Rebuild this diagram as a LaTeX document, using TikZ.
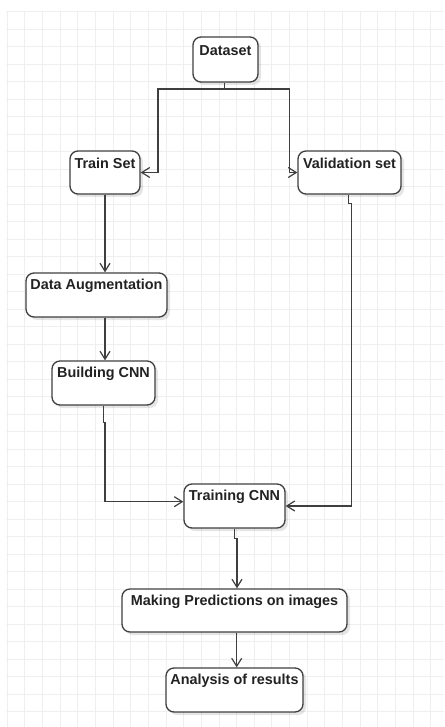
\documentclass[tikz,border=0pt]{standalone}
\usepackage{fontspec}
\setmainfont{Liberation Sans}
\usetikzlibrary{arrows.meta,calc,shadows}
\definecolor{gridline}{HTML}{EFEFEF}
\definecolor{edge}{HTML}{3F3F3F}
\definecolor{ink}{HTML}{222222}
\tikzset{
  stepbox/.style={draw=edge, line width=1.3pt, rounded corners=8pt, fill=white,
    drop shadow={shadow xshift=3pt, shadow yshift=-3pt, opacity=0.10, fill=black},
    inner sep=0pt},
  lbl/.style={text=ink, font=\fontsize{14.4}{17}\selectfont\bfseries, inner sep=0pt},
  arr/.style={draw=edge, line width=1.3pt,
    -{Straight Barb[length=8pt,width=10pt,line width=1.2pt]}},
}
\begin{document}
\begin{tikzpicture}[x=1pt,y=-1pt]
\useasboundingbox (0,0) rectangle (444,727);
\fill[white] (0,0) rectangle (444,727);
% background grid
\foreach \i in {0,...,24} {
  \draw[gridline, line width=0.9pt] ({7.3+17.64*\i},11) -- ({7.3+17.64*\i},727);
}
\foreach \j in {0,...,40} {
  \draw[gridline, line width=0.9pt] (6,{11.7+17.5*\j}) -- (444,{11.7+17.5*\j});
}
% boxes
\node[stepbox, minimum width=65pt, minimum height=45pt] (ds) at (225.5,59.5) {};
\node[stepbox, minimum width=70pt, minimum height=43pt] (train) at (105,172.5) {};
\node[stepbox, minimum width=103pt, minimum height=43pt] (val) at (349.5,172.5) {};
\node[stepbox, minimum width=141pt, minimum height=44pt] (aug) at (96.5,295) {};
\node[stepbox, minimum width=103pt, minimum height=44pt] (build) at (103.5,383) {};
\node[stepbox, minimum width=101pt, minimum height=44pt] (tcnn) at (234.5,506) {};
\node[stepbox, minimum width=225pt, minimum height=43pt] (pred) at (234.5,610.5) {};
\node[stepbox, minimum width=137pt, minimum height=44pt] (anal) at (234.5,690) {};
% labels, set near the top of each box
\node[lbl] at ([yshift=-13.8pt]ds.north) {Dataset};
\node[lbl] at ([yshift=-13.5pt]train.north) {Train Set};
\node[lbl] at ([yshift=-13.5pt]val.north) {Validation set};
\node[lbl] at ([yshift=-13.5pt]aug.north) {Data Augmentation};
\node[lbl] at ([yshift=-13.5pt]build.north) {Building CNN};
\node[lbl] at ([yshift=-13.5pt]tcnn.north) {Training CNN};
\node[lbl] at ([yshift=-13.5pt]pred.north) {Making Predictions on images};
\node[lbl] at ([yshift=-13.5pt]anal.north) {Analysis of results};
% connectors
\coordinate (jL) at (158,89);
\coordinate (jR) at (289.5,89);
\draw[arr] ([xshift=-0.8pt]ds.south) -- ([xshift=-0.8pt]ds.south |- jL) -- (jL) |- (train.east);
\draw[arr] ([xshift=-0.8pt]ds.south |- jL) -- (jR) |- (val.west);
\draw[arr] (train.south) -- (train.south |- aug.north);
\draw[arr] (train.south |- aug.south) -- (train.south |- build.north);
\draw[arr] ([xshift=-0.2pt]build.south) -- ++(0,17) -- ++(1.7,0) |- ([yshift=4.3pt]tcnn.west);
\draw[arr] ([xshift=-0.8pt]val.south) -- ++(0,9) -- ++(2.8,0) |- (tcnn.east);
\draw[arr] (tcnn.south) -- ++(0,9.5) -- ++(2.5,0) coordinate (tj) -- (tj |- pred.north);
\draw[arr] ([xshift=2.2pt]pred.south) -- ([xshift=2.2pt]pred.south |- anal.north);
\end{tikzpicture}
\end{document}
